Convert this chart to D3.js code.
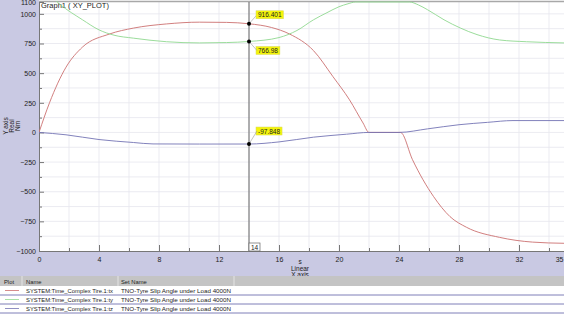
<!DOCTYPE html>
<html>
<head>
<meta charset="utf-8">
<script src="https://cdn.jsdelivr.net/npm/d3@7"></script>
<style>
  body { margin: 0; background: #fff; }
  svg { display: block; font-family: "Liberation Sans", Arial, sans-serif; }
</style>
</head>
<body>
<svg width="564" height="314"></svg>
<script>
// series: time (s) and values (Nm)
var txTime = [0, 0.7, 1.8, 2.9, 4.7, 6.3, 8.5, 10.7, 12.5, 14, 15.5, 16.7, 18.3, 19.6, 20.7, 21.6, 22, 24.1, 24.9, 26.3, 27.4, 28.5, 30.7, 32.9, 35];
var txVal  = [0, 250, 550, 720, 830, 880, 915, 930, 928, 916.4, 885, 830, 690, 470, 275, 80, 0, 0, -230, -540, -710, -800, -885, -925, -935];

var tyTime = [0, 1.4, 2.9, 4, 5, 6.3, 8.5, 10.7, 12.5, 14, 16, 17.2, 18.3, 19.2, 20, 20.6, 21.1, 24.7, 25.3, 25.9, 27, 28.1, 29.2, 30.7, 32.5, 35];
var tyVal  = [1250, 1080, 950, 865, 820, 795, 765, 755, 758, 767, 800, 860, 950, 1010, 1060, 1085, 1100, 1100, 1075, 1035, 950, 880, 825, 780, 765, 755];

var tzTime = [0, 1.8, 4, 6.3, 7.6, 10.7, 14, 16, 18.3, 20.5, 22, 24, 25.9, 28, 29.9, 31.6, 35];
var tzVal  = [0, -20, -60, -85, -97, -98, -97.8, -80, -40, -15, 0, 0, 30, 65, 85, 100, 100];

var seriesNames = ["SYSTEM:Time_Complex Tire.1:tx", "SYSTEM:Time_Complex Tire.1:ty", "SYSTEM:Time_Complex Tire.1:tz"];
var setNames    = ["TNO-Tyre Slip Angle under Load 4000N", "TNO-Tyre Slip Angle under Load 4000N", "TNO-Tyre Slip Angle under Load 4000N"];
var colors      = ["#cc7070", "#90d890", "#7474b4"];

var cursorTime   = 14;
var cursorValues = [916.401, 766.98, -97.848];
var cursorLabels = ["916.401", "766.98", "-97.848"];

var yTickValues = [1100, 1000, 750, 500, 250, 0, -250, -500, -750, -1000];
var xTickValues = [0, 4, 8, 12, 16, 20, 24, 28, 32, 35];

var svg = d3.select("svg"),
    band = "#c9c9e3";

var x = d3.scaleLinear().domain([0, 35]).range([39, 564]),
    y = d3.scaleLinear().domain([-1000, 1100]).range([251, 2]);

// background bands
svg.append("rect").attr("x", 0).attr("y", 0).attr("width", 39).attr("height", 276).attr("fill", band);
svg.append("rect").attr("x", 0).attr("y", 251).attr("width", 564).attr("height", 25).attr("fill", band);

// grid
var grid = svg.append("g").attr("stroke", "#e6e6ee").attr("stroke-width", 0.8);
grid.selectAll(".gx").data(d3.range(2, 35, 2)).enter().append("line")
    .attr("x1", function(d) { return x(d); }).attr("x2", function(d) { return x(d); })
    .attr("y1", y(1100)).attr("y2", y(-1000));
grid.selectAll(".gy").data(d3.range(-875, 1100, 125)).enter().append("line")
    .attr("x1", x(0)).attr("x2", x(35))
    .attr("y1", function(d) { return y(d); }).attr("y2", function(d) { return y(d); });

// top border
svg.append("line").attr("x1", 39).attr("x2", 564).attr("y1", 1.5).attr("y2", 1.5)
   .attr("stroke", "#a8a8a8").attr("stroke-width", 1.5);

svg.append("text").attr("x", 41).attr("y", 8).attr("font-size", 7.5).attr("fill", "#222")
   .text("Graph1 ( XY_PLOT)");

// axes
function styleAxis(g) {
  g.select(".domain").attr("stroke", "#777");
  g.selectAll(".tick line").attr("stroke", "#777");
  g.selectAll(".tick text").attr("font-size", 7).attr("fill", "#222")
   .attr("font-family", "Liberation Sans, Arial, sans-serif");
}

var yMinor = svg.append("g").attr("transform", "translate(39,0)")
  .call(d3.axisRight(y).tickValues(d3.range(-875, 1100, 250)).tickSize(3).tickFormat(""));
yMinor.select(".domain").remove();
yMinor.selectAll("line").attr("stroke", "#777");

var yAxis = svg.append("g").attr("transform", "translate(39,0)")
  .call(d3.axisRight(y).tickValues(yTickValues).tickSize(5).tickSizeOuter(0).tickFormat(d3.format("d")));
yAxis.selectAll(".tick text").attr("text-anchor", "end").attr("x", -3);
styleAxis(yAxis);

var xMinor = svg.append("g").attr("transform", "translate(0,251)")
  .call(d3.axisTop(x).tickValues(d3.range(2, 35, 4)).tickSize(3).tickFormat(""));
xMinor.select(".domain").remove();
xMinor.selectAll("line").attr("stroke", "#777");

var xAxis = svg.append("g").attr("transform", "translate(0,251)")
  .call(d3.axisTop(x).tickValues(xTickValues).tickSize(6).tickSizeOuter(0));
xAxis.selectAll(".tick text").attr("y", 9).attr("dy", "0.35em");
xAxis.selectAll(".tick text").filter(function(d) { return d === 35; })
  .attr("text-anchor", "end").attr("x", -1);
styleAxis(xAxis);

// axis titles
svg.append("g").attr("font-size", 6.5).attr("fill", "#222").attr("text-anchor", "middle")
  .selectAll("text").data(["s", "Linear", "X axis"]).enter().append("text")
  .attr("x", 300).attr("y", function(d, i) { return 264 + i * 6.5; }).text(function(d) { return d; });

svg.append("g").attr("font-size", 6.5).attr("fill", "#222").attr("text-anchor", "middle")
  .selectAll("text").data(["Y axis", "Real", "Nm"]).enter().append("text")
  .attr("transform", function(d, i) { return "translate(" + (8 + i * 6) + ",126) rotate(-90)"; })
  .text(function(d) { return d; });

// lines
svg.append("defs").append("clipPath").attr("id", "clip")
   .append("rect").attr("x", 39).attr("y", 1).attr("width", 525).attr("height", 250);

var line = d3.line()
  .x(function(d) { return x(d[0]); })
  .y(function(d) { return y(d[1]); })
  .curve(d3.curveMonotoneX);

var series = [d3.zip(txTime, txVal), d3.zip(tyTime, tyVal), d3.zip(tzTime, tzVal)];
svg.append("g").attr("clip-path", "url(#clip)")
  .selectAll("path").data(series).enter().append("path")
  .attr("d", line)
  .attr("fill", "none")
  .attr("stroke", function(d, i) { return colors[i]; })
  .attr("stroke-width", 0.9);

// cursor
var cx = x(cursorTime);
svg.append("line").attr("x1", cx).attr("x2", cx).attr("y1", 2).attr("y2", 251)
   .attr("stroke", "#666").attr("stroke-width", 1);
svg.append("rect").attr("x", cx).attr("y", 243).attr("width", 11).attr("height", 8)
   .attr("fill", "#fff").attr("stroke", "#666").attr("stroke-width", 0.7);
svg.append("text").attr("x", cx + 5.5).attr("y", 249.5).attr("font-size", 6.5)
   .attr("text-anchor", "middle").attr("fill", "#222").text(cursorTime);

var labelOffsets = [-9, 9, -13];
var markers = svg.append("g");
cursorValues.forEach(function(v, i) {
  var cy = y(v), ly = cy + labelOffsets[i];
  markers.append("line").attr("x1", cx).attr("y1", cy).attr("x2", cx + 8).attr("y2", ly)
    .attr("stroke", "#999").attr("stroke-width", 0.6);
  var t = markers.append("text").attr("x", cx + 9).attr("y", ly + 2.5)
    .attr("font-size", 6.5).attr("fill", "#222").text(cursorLabels[i]);
  var w = t.node().getComputedTextLength();
  markers.insert("rect", "text").attr("x", cx + 7).attr("y", ly - 4).attr("width", w + 4).attr("height", 8)
    .attr("fill", "#f4f40a").attr("stroke", "#d8d860").attr("stroke-width", 0.5);
  markers.append("circle").attr("cx", cx).attr("cy", cy).attr("r", 2).attr("fill", "#000");
});

// legend table
var table = svg.append("g").attr("font-size", 5.8).attr("fill", "#222");
table.append("rect").attr("x", 0).attr("y", 276).attr("width", 564).attr("height", 38).attr("fill", "#fff");
table.append("rect").attr("x", 0).attr("y", 276).attr("width", 564).attr("height", 10).attr("fill", "#c4c4c4");
[22, 118, 234].forEach(function(cx) {
  table.append("line").attr("x1", cx).attr("x2", cx).attr("y1", 276).attr("y2", 286)
    .attr("stroke", "#eee").attr("stroke-width", 0.8);
});
[["Plot", 4], ["Name", 26], ["Set Name", 121]].forEach(function(h) {
  table.append("text").attr("x", h[1]).attr("y", 283.5).text(h[0]);
});
seriesNames.forEach(function(name, i) {
  var ry = 286 + i * 9;
  table.append("line").attr("x1", 5).attr("x2", 19).attr("y1", ry + 4.5).attr("y2", ry + 4.5)
    .attr("stroke", colors[i]).attr("stroke-width", 0.8);
  table.append("text").attr("x", 26).attr("y", ry + 6.5).attr("textLength", 87)
    .attr("lengthAdjust", "spacingAndGlyphs").text(name);
  table.append("text").attr("x", 121).attr("y", ry + 6.5).attr("textLength", 110)
    .attr("lengthAdjust", "spacingAndGlyphs").text(setNames[i]);
  table.append("line").attr("x1", 0).attr("x2", 564).attr("y1", ry + 9).attr("y2", ry + 9)
    .attr("stroke", "#7070b0").attr("stroke-width", 0.9);
});
</script>
</body>
</html>
